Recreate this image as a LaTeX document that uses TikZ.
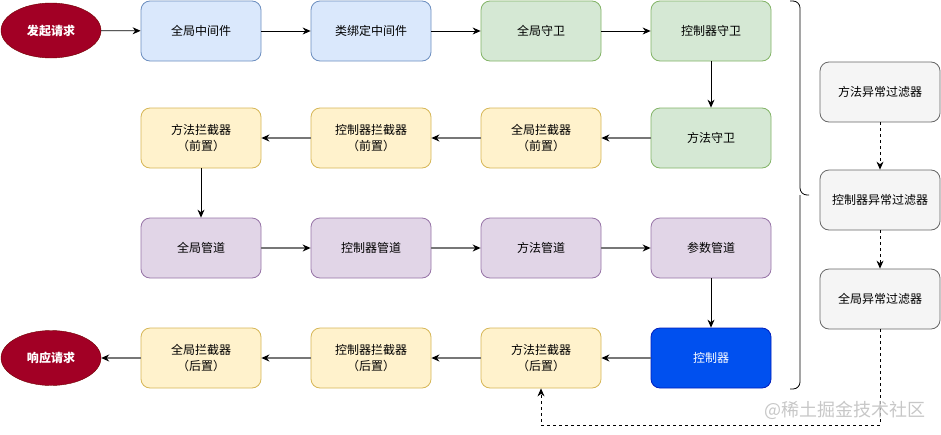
\documentclass[tikz,border=0pt]{standalone}
\usepackage{fontspec}
\setmainfont{Noto Sans CJK SC}
\usetikzlibrary{arrows.meta,shapes.geometric}
\definecolor{bluef}{HTML}{DAE8FC}\definecolor{blued}{HTML}{6C8EBF}
\definecolor{greenf}{HTML}{D5E8D4}\definecolor{greend}{HTML}{82B366}
\definecolor{yelf}{HTML}{FFF2CC}\definecolor{yeld}{HTML}{D6B656}
\definecolor{purf}{HTML}{E1D5E7}\definecolor{purd}{HTML}{9673A6}
\definecolor{grayf}{HTML}{F5F5F5}\definecolor{grayd}{HTML}{666666}
\definecolor{redf}{HTML}{A20025}\definecolor{redd}{HTML}{6F0000}
\definecolor{ctlf}{HTML}{0050EF}\definecolor{ctld}{HTML}{001DBC}
\definecolor{linegray}{HTML}{777777}
\begin{document}
\begin{tikzpicture}[x=1pt,y=-1pt,
  box/.style={rectangle,rounded corners=9pt,minimum width=120pt,minimum height=60pt,inner sep=0pt,align=center,font=\fontsize{12}{15.5}\selectfont,line width=0.8pt},
  bluebox/.style={box,fill=bluef,draw=blued},
  greenbox/.style={box,fill=greenf,draw=greend},
  yelbox/.style={box,fill=yelf,draw=yeld},
  purbox/.style={box,fill=purf,draw=purd},
  graybox/.style={box,fill=grayf,draw=grayd},
  ctlbox/.style={box,fill=ctlf,draw=ctld,text=white},
  oval/.style={ellipse,fill=redf,draw=redd,minimum width=100pt,minimum height=55pt,inner sep=0pt,text=white,font=\fontsize{12}{14}\selectfont\bfseries},
  fwd/.style={draw=black,line width=0.8pt,-{Stealth[length=8pt,width=7pt]}},
  back/.style={draw=linegray,line width=1.2pt,-{Stealth[length=8pt,width=7pt,black]}},
  dsh/.style={draw=black,line width=0.8pt,dashed,dash pattern=on 3pt off 3pt,-{Stealth[length=8pt,width=7pt]}}
]
\useasboundingbox (0,0) rectangle (941,434);
% row 1
\node[oval] (start) at (51,30.5) {发起请求};
\node[bluebox] (gm) at (201,31) {全局中间件};
\node[bluebox] (cm) at (371,31) {类绑定中间件};
\node[greenbox] (gg) at (541,31) {全局守卫};
\node[greenbox] (cg) at (711,31) {控制器守卫};
% row 2
\node[yelbox] (mip) at (201,138) {方法拦截器\\（前置）};
\node[yelbox] (cip) at (371,138) {控制器拦截器\\（前置）};
\node[yelbox] (gip) at (541,138) {全局拦截器\\（前置）};
\node[greenbox] (mg) at (711,138) {方法守卫};
% row 3
\node[purbox] (gp) at (201,248) {全局管道};
\node[purbox] (cp) at (371,248) {控制器管道};
\node[purbox] (mp) at (541,248) {方法管道};
\node[purbox] (pp) at (711,248) {参数管道};
% row 4
\node[oval] (resp) at (51,358) {响应请求};
\node[yelbox] (gia) at (201,358) {全局拦截器\\（后置）};
\node[yelbox] (cia) at (371,358) {控制器拦截器\\（后置）};
\node[yelbox] (mia) at (541,358) {方法拦截器\\（后置）};
\node[ctlbox] (ctl) at (711,358) {控制器};
% filters
\node[graybox] (mf) at (880,92) {方法异常过滤器};
\node[graybox] (cf) at (880,200) {控制器异常过滤器};
\node[graybox] (gf) at (880,299) {全局异常过滤器};
% connectors
\draw[fwd] (start) -- (gm);
\draw[fwd] (gm) -- (cm);
\draw[fwd] (cm) -- (gg);
\draw[fwd] (gg) -- (cg);
\draw[fwd] (cg) -- (mg);
\draw[back] (mg) -- (gip);
\draw[back] (gip) -- (cip);
\draw[back] (cip) -- (mip);
\draw[fwd] (mip) -- (gp);
\draw[back] (gp) -- (cp);
\draw[back] (cp) -- (mp);
\draw[back] (mp) -- (pp);
\draw[fwd] (pp) -- (ctl);
\draw[back] (ctl) -- (mia);
\draw[back] (mia) -- (cia);
\draw[back] (cia) -- (gia);
\draw[back] (gia) -- (resp);
\draw[dsh] (mf) -- (cf);
\draw[dsh] (cf) -- (gf);
\coordinate (c1) at (880,425);
\coordinate (c2) at (541,425);
\draw[dsh] (gf.south) -- (c1) -- (c2) -- (mia.south);
% brace
\coordinate (bt) at (790,1);
\coordinate (bb) at (790,389);
\coordinate (tip) at (809,195);
\draw[line width=0.8pt,rounded corners=7pt] (bt) -| (800,195) -- (tip);
\draw[line width=0.8pt,rounded corners=7pt] (bb) -| (800,195);
% watermark
\node[text=black!22,font=\fontsize{18}{18}\selectfont,inner sep=0pt] (wm) at (845,410) {@稀土掘金技术社区};
\end{tikzpicture}
\end{document}
